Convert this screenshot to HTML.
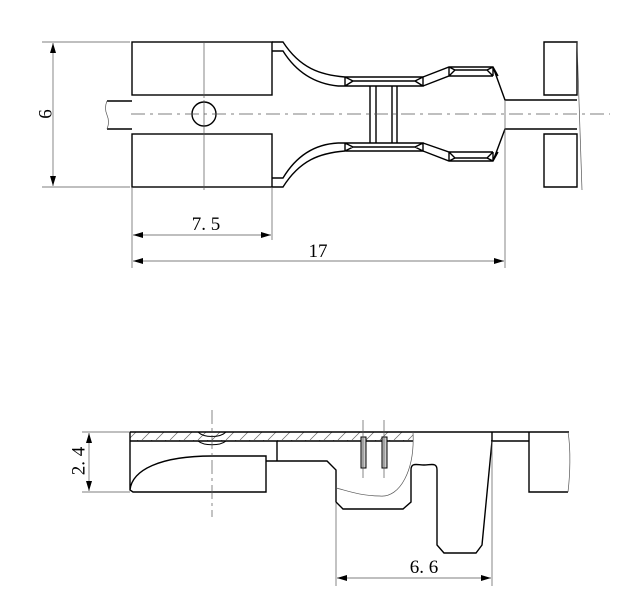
<!DOCTYPE html>
<html><head><meta charset="utf-8"><style>
html,body{margin:0;padding:0;background:#fff;}
svg{display:block}
.k{stroke:#000;stroke-width:1.4;fill:none}
.t{stroke:#555;stroke-width:0.7;fill:none}
.c{stroke:#555;stroke-width:0.7;fill:none;stroke-dasharray:14,5,3,5}
text{font-family:"Liberation Serif",serif;font-size:19px;fill:#000}
</style></head><body>
<svg width="637" height="600" viewBox="0 0 637 600" xmlns="http://www.w3.org/2000/svg">
<defs>
<marker id="a" viewBox="0 0 10 6" refX="10" refY="3" markerWidth="10" markerHeight="6" orient="auto-start-reverse" markerUnits="userSpaceOnUse"><path d="M0,0L10,3L0,6z" fill="#000"/></marker>
<pattern id="h" width="14" height="10" patternUnits="userSpaceOnUse"><path d="M2,10L12,0" stroke="#666" stroke-width="0.7"/></pattern>
</defs>
<g class="k">
<rect x="132" y="42" width="140" height="53"/>
<rect x="132" y="134" width="140" height="53"/>
<path d="M132,101H107M132,129H107"/>
<path d="M107,101q-3,7 0,14q3,7 0,14" class="t"/>
<circle cx="204" cy="114" r="12"/>
<path d="M272,42H283C300,68 320,75 345,77M272,51H283C298,75 318,84 338,86"/>
<path d="M345,77V86M345,77H423V86H338M353,81H415M345,77L353,81M423,77L415,81M345,86L353,81M423,86L415,81"/>
<path d="M423,77L449,67H493L505,100H544M423,86L449,76H493M449,67V76M493,67V76M455,70H487M449,67L455,70M493,67L487,70M449,76L455,70M493,76L487,70M493,67L498,76"/>
<path d="M272,187H283C300,160 320,153 345,151M272,178H283C298,153 318,144 338,143"/>
<path d="M345,151V143M345,151H423V143H338M353,147H415M345,151L353,147M423,151L415,147M345,143L353,147M423,143L415,147"/>
<path d="M423,151L449,161H493L505,129H544M423,143L449,152H493M449,161V152M493,161V152M455,158H487M449,161L455,158M493,161L487,158M449,152L455,158M493,152L487,158M493,161L498,152"/>
<path d="M370,86V143M376,86V143M392,86V143M397,86V143"/>
<path d="M544,42H577V95H544ZM544,134H577V187H544ZM544,100H577M544,129H577"/>
</g>
<path class="c" d="M131,114H610"/>
<path class="t" d="M204,100V190M204,42V98"/>
<path class="t" d="M577,42L582,190"/>
<path class="t" d="M42,42H130M42,187H130M132,187V268M272,187V240M505,100V268"/>
<path class="t" d="M53,43V186" marker-start="url(#a)" marker-end="url(#a)"/>
<text x="47" y="114" transform="rotate(-90 47 114)" text-anchor="middle" dominant-baseline="middle">6</text>
<path class="t" d="M133,235H271" marker-start="url(#a)" marker-end="url(#a)"/>
<text x="206" y="230" text-anchor="middle">7. 5</text>
<path class="t" d="M133,261H504" marker-start="url(#a)" marker-end="url(#a)"/>
<text x="318" y="257" text-anchor="middle">17</text>
<rect x="130" y="432" width="283" height="9" fill="url(#h)"/>
<g class="k">
<path d="M130,432H569M130,441H413M491,441H529M130,432V490L133,492H266V456H212C160,456 132,470 130,490"/>
<path d="M198,441C204,446 220,446 226,441M198,432C204,438 220,438 226,432" stroke-width="1"/>
<path d="M266,461H327L336,470V502L343,509H403L411,502V470C411,462 417,465 424,465C431,465 437,462 437,470V545L444,553H476L482,545L492,441V432"/>
<path d="M277,441V461"/>
<path d="M529,432V492H568"/>
<rect x="361" y="437" width="5" height="31" fill="#ccc" stroke-width="1"/>
<rect x="382" y="437" width="5" height="31" fill="#ccc" stroke-width="1"/>
</g>
<path class="t" d="M568,432C571,450 570,475 568,492"/>
<path class="t" d="M413,432C415,470 400,498 380,496C360,496 345,490 336,488"/>
<path class="t" d="M363,420V478M384,420V478"/>
<path class="t" d="M212,410V517" stroke-dasharray="14,4,3,4"/>
<path class="t" d="M82,432H130M82,492H130M336,503V586M492,441V586"/>
<path class="t" d="M89,433V491" marker-start="url(#a)" marker-end="url(#a)"/>
<text x="80" y="461" transform="rotate(-90 80 461)" text-anchor="middle" dominant-baseline="middle">2. 4</text>
<path class="t" d="M337,578H491" marker-start="url(#a)" marker-end="url(#a)"/>
<text x="424" y="573" text-anchor="middle">6. 6</text>
</svg>
</body></html>
